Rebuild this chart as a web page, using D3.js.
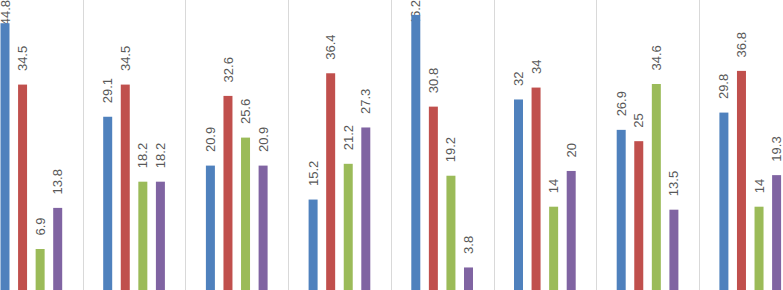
<!DOCTYPE html>
<html><head><meta charset="utf-8">
<script src="https://cdn.jsdelivr.net/npm/d3@7"></script>
<style>html,body{margin:0;padding:0;background:#fff;overflow:hidden}</style>
</head><body>
<svg id="c" width="783" height="290"></svg>
<script>
const categories = ["G1","G2","G3","G4","G5","G6","G7","G8"];
const seriesNames = ["S1","S2","S3","S4"];
const series1 = [44.8, 29.1, 20.9, 15.2, 46.2, 32, 26.9, 29.8];
const series2 = [34.5, 34.5, 32.6, 36.4, 30.8, 34, 25, 36.8];
const series3 = [6.9, 18.2, 25.6, 21.2, 19.2, 14, 34.6, 14];
const series4 = [13.8, 18.2, 20.9, 27.3, 3.8, 20, 13.5, 19.3];
const colors = ["#4F81BD","#C0504D","#9BBB59","#8064A2"];

const allSeries = [series1, series2, series3, series4];
const svg = d3.select("#c");
const groupW = 102.7;
const x0 = d3.scaleBand().domain(categories).range([-20, -20 + groupW*categories.length]).paddingInner(0).paddingOuter(0);
const x1 = d3.scaleBand().domain(seriesNames).range([20.5, 82.2]).paddingInner(0.488).paddingOuter(0);
const y = d3.scaleLinear().domain([0, 48.7]).range([290.1, 0]);

// gridlines between groups
svg.append("g").selectAll("line").data(categories.slice(1)).join("line")
  .attr("x1", d => Math.round(x0(d)) + 0.5).attr("x2", d => Math.round(x0(d)) + 0.5)
  .attr("y1", 0).attr("y2", 290)
  .attr("stroke", "#d9d9d9").attr("stroke-width", 1);

const labelLayer = svg.append("g");
const barLayer = svg.append("g");

categories.forEach((cat, ci) => {
  const gx = x0(cat);
  seriesNames.forEach((s, si) => {
    const v = allSeries[si][ci];
    const cx = gx + x1(s) + x1.bandwidth()/2;
    const t = labelLayer.append("text")
      .attr("dy", "0.35em")
      .attr("text-anchor", "start")
      .attr("font-family", "Liberation Sans, Arial, sans-serif")
      .attr("font-size", 13)
      .attr("fill", "#595959")
      .text(v);
    const len = t.node().getComputedTextLength();
    const ty = Math.max(y(v) - 13.5, len);
    t.attr("transform", `translate(${cx},${ty}) rotate(-90)`);
    barLayer.append("rect")
      .attr("x", gx + x1(s)).attr("width", x1.bandwidth())
      .attr("y", y(v)).attr("height", y(0) - y(v))
      .attr("fill", colors[si]);
  });
});
</script>
</body></html>
